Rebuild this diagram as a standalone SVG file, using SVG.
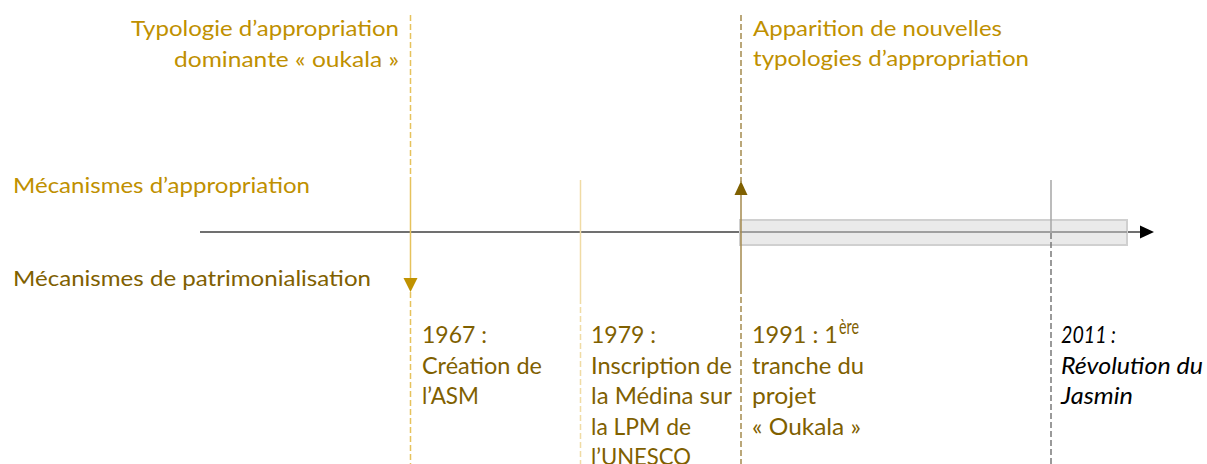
<svg xmlns="http://www.w3.org/2000/svg" width="1207" height="464" viewBox="0 0 1207 464">
<style>
text{font-family:Lato,"Open Sans","Liberation Sans",sans-serif;font-size:22px}
.ev{font-size:23.5px}
.gold{fill:#bf9000}
.dark{fill:#7f6000}
.blk{fill:#000;font-style:italic}
.l1{stroke:#e6c25c;stroke-width:1.5;fill:none}
.l2{stroke:#f0dba4;stroke-width:1.5;fill:none}
.l3{stroke:#a48a4e;stroke-width:1.5;fill:none}
.l4{stroke:#a6a6a6;stroke-width:1.5;fill:none}
.l4d{stroke:#7a7a7a;stroke-width:1.5;fill:none}
.dash{stroke-dasharray:6 3}
</style>
<defs>
<marker id="ax" markerWidth="14" markerHeight="14" refX="1" refY="7" orient="auto" markerUnits="userSpaceOnUse">
<path d="M0,0.5 L14,7 L0,13.5 z" fill="#000"/>
</marker>
</defs>
<g id="connectors">
<line x1="200" y1="232" x2="1141" y2="232" stroke="#404040" stroke-width="1.3" marker-end="url(#ax)"/>
<rect id="bar" x="740" y="220" width="387" height="25" fill="#e6e6e6" fill-opacity="0.85" stroke="#d0d0d0" stroke-width="2"/>
<line x1="740" y1="232" x2="1127" y2="232" stroke="#6a6a6a" stroke-width="1.2"/>
<!-- 1967 -->
<line class="l1 dash" x1="410.5" y1="15" x2="410.5" y2="179"/>
<line class="l1" x1="410.5" y1="179" x2="410.5" y2="280"/>
<path d="M403.5,278 L417.5,278 L410.5,292 z" fill="#c09200"/>
<line class="l1 dash" x1="410.5" y1="292" x2="410.5" y2="464"/>
<!-- 1979 -->
<line class="l2" x1="580.5" y1="180" x2="580.5" y2="298"/>
<line class="l2 dash" x1="580.5" y1="298" x2="580.5" y2="464"/>
<!-- 1991 -->
<line class="l3 dash" x1="741" y1="15" x2="741" y2="182"/>
<path d="M741,181 L734.5,195 L747.5,195 z" fill="#7f6000"/>
<line class="l3" x1="741" y1="195" x2="741" y2="288"/>
<line class="l3 dash" x1="741" y1="288" x2="741" y2="464"/>
<!-- 2011 -->
<line class="l4" x1="1051" y1="180" x2="1051" y2="233"/>
<line class="l4d dash" x1="1051" y1="233" x2="1051" y2="464"/>
</g>
<g id="typo-oukala">
<text class="gold" x="131" y="36" textLength="268" lengthAdjust="spacingAndGlyphs">Typologie d’appropriation</text>
<text class="gold" x="174" y="67" textLength="225" lengthAdjust="spacingAndGlyphs">dominante « oukala »</text>
</g>
<g id="typo-nouvelles">
<text class="gold" x="753" y="36" textLength="249" lengthAdjust="spacingAndGlyphs">Apparition de nouvelles</text>
<text class="gold" x="753" y="66" textLength="276" lengthAdjust="spacingAndGlyphs">typologies d’appropriation</text>
</g>
<g id="label-appropriation">
<text class="gold" x="13" y="193" textLength="297" lengthAdjust="spacingAndGlyphs">Mécanismes d’appropriation</text>
</g>
<g id="label-patrimonialisation">
<text class="dark" x="13" y="286" textLength="358" lengthAdjust="spacingAndGlyphs">Mécanismes de patrimonialisation</text>
</g>
<g id="ev-1967">
<text class="dark ev" x="422" y="343" textLength="65" lengthAdjust="spacingAndGlyphs">1967 :</text>
<text class="dark ev" x="422" y="374" textLength="120" lengthAdjust="spacingAndGlyphs">Création de</text>
<text class="dark ev" x="422" y="404" textLength="57" lengthAdjust="spacingAndGlyphs">l’ASM</text>
</g>
<g id="ev-1979">
<text class="dark ev" x="591" y="343" textLength="65" lengthAdjust="spacingAndGlyphs">1979 :</text>
<text class="dark ev" x="591" y="374" textLength="141" lengthAdjust="spacingAndGlyphs">Inscription de</text>
<text class="dark ev" x="591" y="404" textLength="141" lengthAdjust="spacingAndGlyphs">la Médina sur</text>
<text class="dark ev" x="591" y="435" textLength="100" lengthAdjust="spacingAndGlyphs">la LPM de</text>
<text class="dark ev" x="591" y="465" textLength="100" lengthAdjust="spacingAndGlyphs">l’UNESCO</text>
</g>
<g id="ev-1991">
<text class="dark ev" x="752" y="343" textLength="86" lengthAdjust="spacingAndGlyphs">1991 : 1</text>
<text class="dark" x="839" y="334" font-size="14" textLength="20" lengthAdjust="spacingAndGlyphs">ère</text>
<text class="dark ev" x="752" y="374" textLength="112" lengthAdjust="spacingAndGlyphs">tranche du</text>
<text class="dark ev" x="752" y="404" textLength="64" lengthAdjust="spacingAndGlyphs">projet</text>
<text class="dark ev" x="752" y="435" textLength="109" lengthAdjust="spacingAndGlyphs">« Oukala »</text>
</g>
<g id="ev-2011">
<text class="blk ev" x="1061" y="343" textLength="55" lengthAdjust="spacingAndGlyphs">2011 :</text>
<text class="blk ev" x="1061" y="374" textLength="142" lengthAdjust="spacingAndGlyphs">Révolution du</text>
<text class="blk ev" x="1061" y="404" textLength="72" lengthAdjust="spacingAndGlyphs">Jasmin</text>
</g>
</svg>
